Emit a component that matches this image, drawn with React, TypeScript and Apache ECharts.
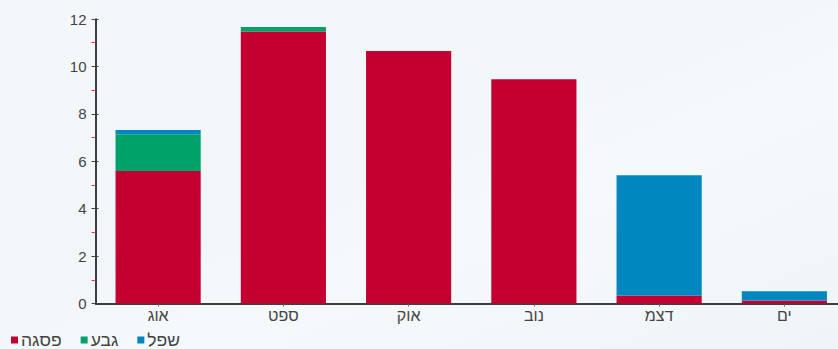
import React, { useEffect, useRef } from "react";
import * as echarts from "echarts";

const categories = ["אוג", "ספט", "אוק", "נוב", "דצמ", "ים"];
const seriesNames = ["פסגה", "גבע", "שפל"];
const peakValues = [5.59, 11.47, 10.65, 9.46, 0.34, 0.13];
const shoulderValues = [1.55, 0.19, 0, 0, 0, 0];
const offPeakValues = [0.18, 0, 0, 0, 5.07, 0.39];
const colors = ["#c30030", "#00a26a", "#0087bf"];

export default function App() {
  const ref = useRef<HTMLDivElement>(null);
  useEffect(() => {
    document.body.style.margin = "0";
    document.body.style.overflow = "hidden";
    const chart = echarts.init(ref.current!, null, { renderer: "svg" });
    const font = "'Liberation Sans', Arial, sans-serif";
    const data = [peakValues, shoulderValues, offPeakValues];
    chart.setOption({
      animation: false,
      backgroundColor: {
        type: "linear",
        x: 0,
        y: 0,
        x2: 1,
        y2: 1,
        colorStops: [
          { offset: 0, color: "#f3f7fa" },
          { offset: 0.45, color: "#f1f6f9" },
          { offset: 0.6, color: "#f6f9fb" },
          { offset: 1, color: "#eef4f8" },
        ],
      },
      grid: { left: 95.5, top: 19, bottom: 45.5, right: 0, containLabel: false },
      legend: {
        left: 6,
        top: 331,
        padding: [0, 5, 0, 5],
        itemWidth: 7,
        itemHeight: 7,
        itemGap: 19,
        icon: "rect",
        textStyle: { fontFamily: font, fontSize: 17.5, lineHeight: 16, color: "#444", padding: [0, 0, 0, -2] },
        data: seriesNames,
      },
      xAxis: {
        type: "category",
        data: categories,
        axisLine: { lineStyle: { color: "#000", width: 1.5 } },
        axisTick: { show: true, alignWithLabel: true, length: 3, lineStyle: { color: "#666" } },
        axisLabel: { fontFamily: font, fontSize: 16, color: "#444", margin: 4 },
      },
      yAxis: [
        {
          type: "value",
          min: 0,
          max: 12,
          interval: 2,
          axisLine: { show: true, lineStyle: { color: "#000", width: 1.5 } },
          axisTick: { show: true, length: 4, lineStyle: { color: "#444" } },
          minorTick: { show: true, splitNumber: 2, length: 4, lineStyle: { color: "#ff3030" } },
          splitLine: { show: false },
          axisLabel: { fontFamily: font, fontSize: 15, color: "#444", margin: 9 },
        },
        {
          type: "value",
          position: "left",
          min: 0,
          max: 12,
          interval: 2,
          axisLine: { show: false },
          axisTick: { show: true, inside: true, length: 3, lineStyle: { color: "#444" } },
          splitLine: { show: false },
          axisLabel: { show: false },
        },
      ],
      series: seriesNames.map((name, i) => ({
        name,
        type: "bar",
        stack: "total",
        yAxisIndex: 0,
        barWidth: "68%",
        itemStyle: { color: colors[i] },
        data: data[i],
      })),
    });
    return () => chart.dispose();
  }, []);
  return <div ref={ref} style={{ width: 847, height: 349 }} />;
}
